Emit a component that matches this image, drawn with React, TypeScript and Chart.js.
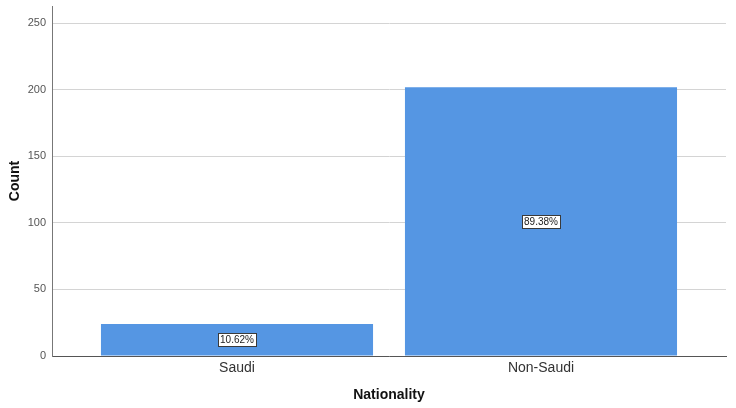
import React, { useEffect, useRef } from "react";
import { Chart, registerables } from "chart.js";

Chart.register(...registerables);

const categories = ["Saudi", "Non-Saudi"];
const counts = [24, 202];
const percentLabels = ["10.62%", "89.38%"];
const yTicks = [0, 50, 100, 150, 200, 250];

const FONT = "'Liberation Sans', Arial, sans-serif";

const labelPlugin = {
  id: "pctLabels",
  afterDatasetsDraw(chart: any) {
    const meta = chart.getDatasetMeta(0);
    const ctx = chart.ctx;
    ctx.save();
    ctx.font = `10px ${FONT}`;
    ctx.textAlign = "center";
    ctx.textBaseline = "middle";
    meta.data.forEach((el: any, i: number) => {
      const txt = percentLabels[i];
      const cx = el.x;
      const cy = (el.y + el.base) / 2;
      const w = ctx.measureText(txt).width + 4;
      const h = 13;
      const x0 = Math.round(cx - w / 2) + 0.5;
      const y0 = Math.round(cy - h / 2) + 0.5;
      ctx.fillStyle = "#ffffff";
      ctx.fillRect(x0, y0, Math.round(w), h);
      ctx.strokeStyle = "#3a3a3a";
      ctx.lineWidth = 1;
      ctx.strokeRect(x0, y0, Math.round(w), h);
      ctx.fillStyle = "#222222";
      ctx.fillText(txt, cx, cy + 0.5);
    });
    ctx.restore();
  },
};

export default function App() {
  const ref = useRef<HTMLCanvasElement>(null);
  useEffect(() => {
    document.body.style.margin = "0";
    const chart = new Chart(ref.current!, {
      type: "bar",
      data: {
        datasets: [
          {
            data: counts.map((c, i) => ({ x: i, y: c })),
            backgroundColor: "#5596E3",
            borderWidth: 0,
            barPercentage: 0.895,
            categoryPercentage: 1,
          },
        ],
      },
      options: {
        animation: false,
        responsive: false,
        maintainAspectRatio: false,
        layout: { padding: { top: 6, right: 10, left: 0, bottom: 0 } },
        plugins: { legend: { display: false }, tooltip: { enabled: false } },
        scales: {
          x: {
            type: "linear",
            offset: false,
            min: -0.6086,
            max: 1.6086,
            afterBuildTicks: (s: any) => {
              s.ticks = categories.map((_, i) => ({ value: i }));
            },
            afterFit: (s: any) => {
              s.height = 52;
              s.paddingLeft = 0;
              s.paddingRight = 0;
            },
            grid: { display: false, drawTicks: false, offset: false },
            border: { display: true, color: "#555555", width: 1 },
            ticks: {
              callback: (v: any) => categories[v] ?? "",
              color: "#333333",
              font: { family: FONT, size: 14 },
              padding: 4,
              maxRotation: 0,
            },
            title: {
              display: true,
              text: "Nationality",
              color: "#111111",
              font: { family: FONT, size: 14, weight: "bold" },
              padding: { top: 6 },
            },
          },
          y: {
            min: 0,
            max: 263,
            afterBuildTicks: (s: any) => {
              s.ticks = yTicks.map((v) => ({ value: v }));
            },
            afterFit: (s: any) => {
              s.width = 52;
              s.paddingTop = 0;
              s.paddingBottom = 0;
            },
            grid: { color: "#d4d4d4", drawTicks: false },
            border: { display: true, color: "#777777", width: 1 },
            ticks: {
              color: "#555555",
              font: { family: FONT, size: 11 },
              padding: 6,
            },
            title: {
              display: true,
              text: "Count",
              color: "#111111",
              font: { family: FONT, size: 14, weight: "bold" },
              padding: { top: 7, bottom: 0 },
            },
          },
        },
      },
      plugins: [labelPlugin],
    } as any);
    return () => chart.destroy();
  }, []);
  return (
    <div style={{ position: "fixed", left: 0, top: 0, width: 736, height: 408, background: "#fff" }}>
      <canvas ref={ref} width={736} height={408} style={{ width: 736, height: 408 }} />
    </div>
  );
}
